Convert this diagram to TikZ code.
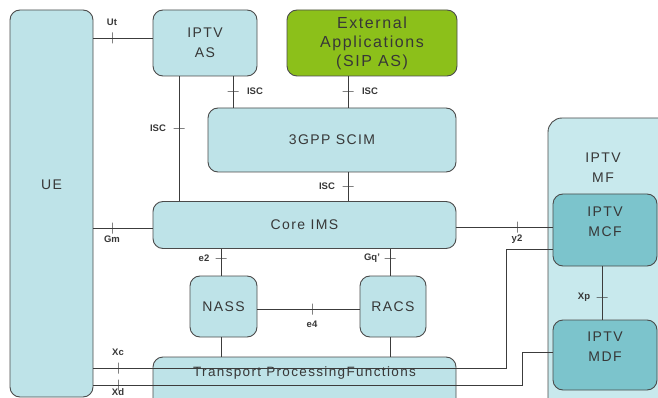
\documentclass[tikz,border=0pt]{standalone}
\usepackage{fontspec}
\setmainfont{Liberation Sans}
\newfontfamily\boxfont[LetterSpace=10]{Liberation Sans}
\definecolor{boxc}{RGB}{190,227,232}
\definecolor{mfc}{RGB}{200,233,237}
\definecolor{mcfc}{RGB}{124,196,204}
\definecolor{greenc}{RGB}{140,192,26}
\definecolor{bordc}{RGB}{75,75,75}
\definecolor{linec}{RGB}{60,60,60}
\definecolor{txtc}{RGB}{55,55,55}
\begin{document}
\begin{tikzpicture}[x=1pt,y=-1pt,
  box/.style={draw=bordc, fill=boxc, rounded corners=10pt, line width=0.9pt, inner sep=0pt, text=txtc, align=center, font=\boxfont\fontsize{14}{20}\selectfont},
  txt/.style={text=txtc, align=center, inner sep=0pt, font=\boxfont\fontsize{14}{20}\selectfont},
  lab/.style={text=txtc, inner sep=1pt, font=\bfseries\fontsize{9.5}{10}\selectfont},
  conn/.style={draw=linec, line width=0.9pt},
  vtick/.style={draw=linec, line width=0.9pt, minimum width=0pt, minimum height=11pt, inner sep=0pt, outer sep=0pt},
  htick/.style={draw=linec, line width=0.9pt, minimum width=11pt, minimum height=0pt, inner sep=0pt, outer sep=0pt}]
\useasboundingbox (0,0) rectangle (658,398);
\clip (0,0) rectangle (658,398);
% boxes
\node[box, minimum width=83, minimum height=387] (ue) at (51.5,203.5) {};
\node[txt] (uet) at (51.5,185) {UE};
\node[box, minimum width=104, minimum height=66] (ias) at (205,43) {IPTV\\AS};
\node[box, fill=greenc, minimum width=170, minimum height=66, font=\boxfont\fontsize{16}{19}\selectfont] (ext) at (372,43) {External\\Applications\\(SIP AS)};
\node[box, minimum width=248, minimum height=64] (scim) at (332,140) {3GPP SCIM};
\node[box, minimum width=303, minimum height=47] (core) at (304.5,225) {Core IMS};
\node[box, minimum width=67, minimum height=61] (nass) at (223.5,306.5) {NASS};
\node[box, minimum width=66, minimum height=61] (racs) at (393,306.5) {RACS};
\node[box, minimum width=303, minimum height=60] (tpf) at (304.5,387) {};
\node[txt, font=\boxfont\fontsize{13.5}{16}\selectfont] (tpft) at (304.5,373) {Transport ProcessingFunctions};
\node[box, fill=mfc, rounded corners=14pt, minimum width=125, minimum height=300] (mf) at (610.5,268) {};
\node[txt] (mft) at (603,168) {IPTV\\MF};
\node[box, fill=mcfc, minimum width=104, minimum height=72] (mcf) at (605,230) {};
\node[txt] (mcft) at (605,222) {IPTV\\MCF};
\node[box, fill=mcfc, minimum width=104, minimum height=70] (mdf) at (605,355) {};
\node[txt] (mdft) at (605,347) {IPTV\\MDF};
% connectors
\draw[conn] (ue.east |- 0,38) -- (ias.west |- 0,38);
\node[vtick] (t1) at (112,38) {};
\node[lab] (l1) at (112,22) {Ut};
\draw[conn] (ias.south -| 179,0) -- (core.north -| 179,0);
\node[htick] (t2) at (179,128) {};
\node[lab] (l2) at (158,128) {ISC};
\draw[conn] (ias.south -| 233,0) -- (scim.north -| 233,0);
\node[htick] (t3) at (233,91) {};
\node[lab] (l3) at (255,91) {ISC};
\draw[conn] (ext.south -| 348,0) -- (scim.north -| 348,0);
\node[htick] (t4) at (348,91) {};
\node[lab] (l4) at (370,91) {ISC};
\draw[conn] (scim.south -| 348,0) -- (core.north -| 348,0);
\node[htick] (t5) at (348,186) {};
\node[lab] (l5) at (327,186) {ISC};
\draw[conn] (ue.east |- 0,228) -- (core.west |- 0,228);
\node[vtick] (t6) at (112,228) {};
\node[lab] (l6) at (112,239) {Gm};
\draw[conn] (core.east |- 0,227) -- (mcf.west |- 0,227);
\node[vtick] (t7) at (517,227) {};
\node[lab] (l7) at (517,239) {y2};
\coordinate (xcb) at (506,249);
\draw[conn] (ue.east |- 0,368) -| (xcb) -- (mcf.west |- xcb);
\node[vtick] (t8) at (118,368) {};
\node[lab] (l8) at (118,352) {Xc};
\coordinate (xdb) at (522,352);
\draw[conn] (ue.east |- 0,385) -| (xdb) -- (mdf.west |- xdb);
\node[vtick] (t9) at (118,385) {};
\node[lab] (l9) at (118,392) {Xd};
\draw[conn] (core.south -| 221,0) -- (nass.north -| 221,0);
\node[htick] (t10) at (221,258) {};
\node[lab] (l10) at (204,258) {e2};
\draw[conn] (core.south -| 390,0) -- (racs.north -| 390,0);
\node[htick] (t11) at (390,258) {};
\node[lab] (l11) at (372,258) {Gq'};
\draw[conn] (nass.east |- 0,309) -- (racs.west |- 0,309);
\node[vtick] (t12) at (312,309) {};
\node[lab] (l12) at (312,324) {e4};
\draw[conn] (nass.south -| 221,0) -- (tpf.north -| 221,0);
\draw[conn] (racs.south -| 390,0) -- (tpf.north -| 390,0);
\draw[conn] (mcf.south -| 602,0) -- (mdf.north -| 602,0);
\node[htick] (t13) at (602,297) {};
\node[lab] (l13) at (584,297) {Xp};
\end{tikzpicture}
\end{document}
